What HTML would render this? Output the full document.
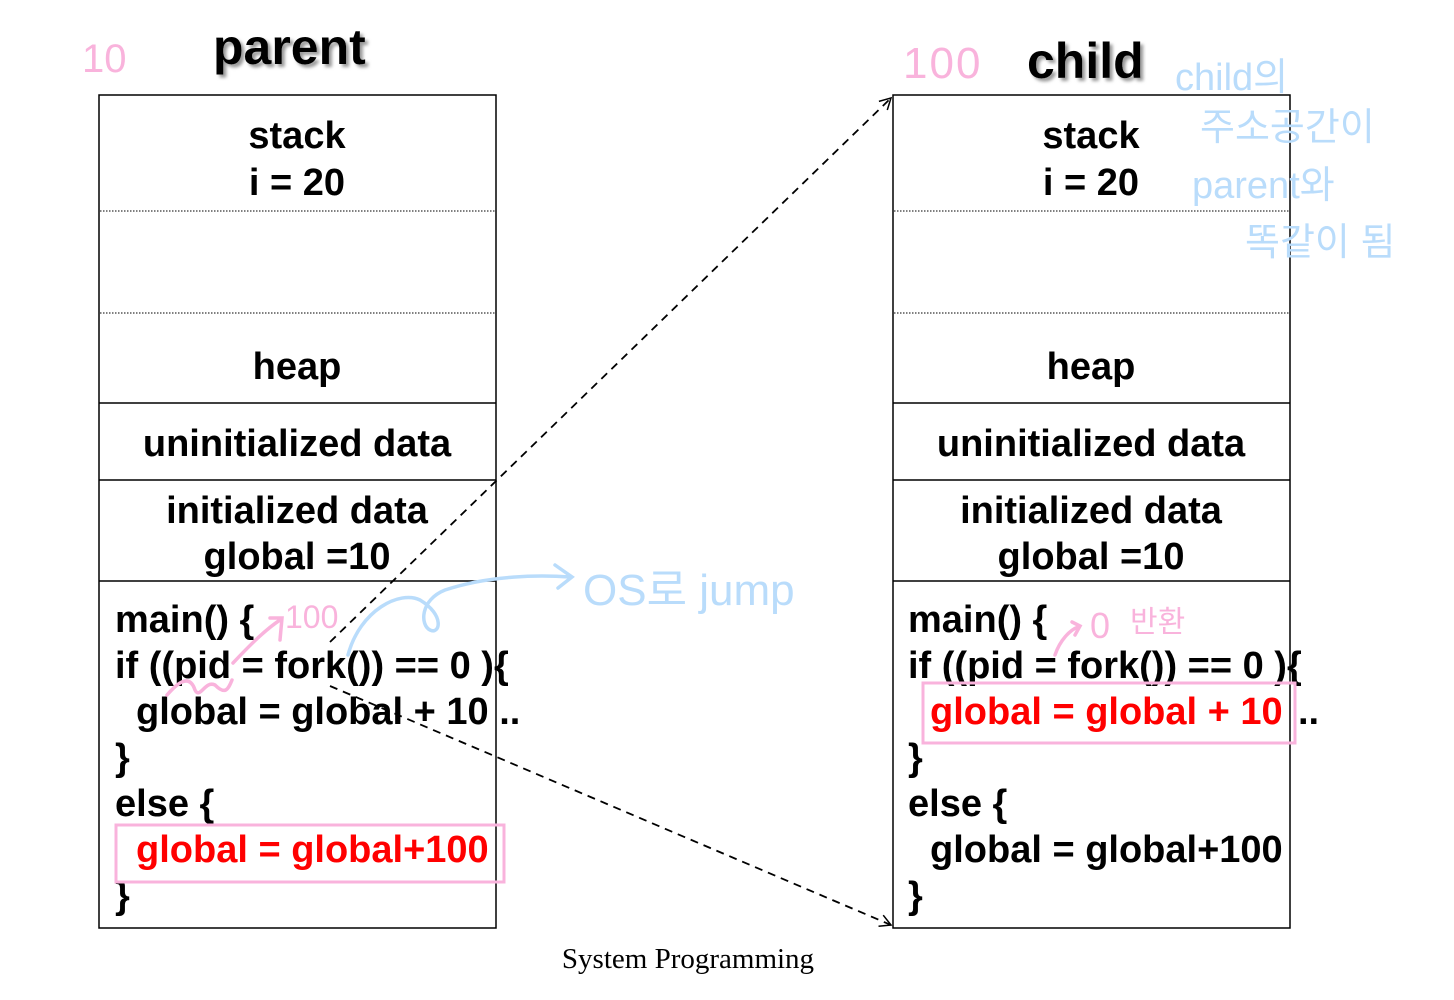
<!DOCTYPE html>
<html><head><meta charset="utf-8"><style>
html,body{margin:0;padding:0;background:#fff;width:1454px;height:1000px;overflow:hidden}
svg{display:block}
.t{font-family:"Liberation Sans",Arial,sans-serif;font-weight:bold;font-size:38px;fill:#000}
</style></head><body>
<svg width="1454" height="1000" xmlns="http://www.w3.org/2000/svg">
<defs>
<marker id="ar" markerWidth="14" markerHeight="14" refX="12" refY="7" orient="auto" markerUnits="userSpaceOnUse">
<path d="M1,1 L12,7 L1,13" fill="none" stroke="#000" stroke-width="1.5"/></marker>
<filter id="sh"><feDropShadow dx="3" dy="3" stdDeviation="1.5" flood-color="#999"/></filter>
</defs>
<text x="213" y="64" class="t" style="font-size:50px" filter="url(#sh)">parent</text>
<text x="1027" y="78" class="t" style="font-size:50px" filter="url(#sh)">child</text>
<text x="82" y="72" font-family="Liberation Sans,sans-serif" font-size="40" fill="#f9b3dc">10</text>
<text x="903" y="78" font-family="Liberation Sans,sans-serif" font-size="44" fill="#f9b3dc" letter-spacing="2">100</text>

<g stroke="#000" stroke-width="1.5" fill="none">
<rect x="99" y="95" width="397" height="833"/>
<line x1="99" y1="403" x2="496" y2="403"/><line x1="99" y1="480" x2="496" y2="480"/><line x1="99" y1="581" x2="496" y2="581"/>
<rect x="893" y="95" width="397" height="833"/>
<line x1="893" y1="403" x2="1290" y2="403"/><line x1="893" y1="480" x2="1290" y2="480"/><line x1="893" y1="581" x2="1290" y2="581"/>
</g>
<g stroke="#000" stroke-width="1" stroke-dasharray="1.5,1.5">
<line x1="100" y1="211" x2="495" y2="211"/><line x1="100" y1="313" x2="495" y2="313"/>
<line x1="894" y1="211" x2="1289" y2="211"/><line x1="894" y1="313" x2="1289" y2="313"/>
</g>

<g class="t" text-anchor="middle">
<text x="297" y="148">stack</text><text x="297" y="195">i = 20</text>
<text x="297" y="379">heap</text><text x="297" y="456">uninitialized data</text>
<text x="297" y="523">initialized data</text><text x="297" y="569">global =10</text>
<text x="1091" y="148">stack</text><text x="1091" y="195">i = 20</text>
<text x="1091" y="379">heap</text><text x="1091" y="456">uninitialized data</text>
<text x="1091" y="523">initialized data</text><text x="1091" y="569">global =10</text>
</g>
<g class="t">
<text x="115" y="632">main() {</text>
<text x="115" y="678">if ((pid = fork()) == 0 ){</text>
<text x="136" y="724">global = global + 10 ..</text>
<text x="115" y="770">}</text>
<text x="115" y="816">else {</text>
<text x="136" y="862" style="fill:#f00">global = global+100</text>
<text x="115" y="908">}</text>
<text x="908" y="632">main() {</text>
<text x="908" y="678">if ((pid = fork()) == 0 ){</text>
<text x="930" y="724" style="fill:#f00">global = global + 10</text><text x="1298" y="724">..</text>
<text x="908" y="770">}</text>
<text x="908" y="816">else {</text>
<text x="930" y="862">global = global+100</text>
<text x="908" y="908">}</text>
</g>
<rect x="116" y="825" width="388" height="57" fill="none" stroke="#f9b3dc" stroke-width="3"/>
<rect x="923" y="683" width="372" height="60" fill="none" stroke="#f9b3dc" stroke-width="3"/>

<g stroke="#000" stroke-width="1.8" stroke-dasharray="8,6" fill="none">
<line x1="330" y1="642" x2="891" y2="98" marker-end="url(#ar)"/>
<line x1="330" y1="686" x2="891" y2="925" marker-end="url(#ar)"/>
</g>

<g fill="none" stroke="#f9b3dc" stroke-width="3.5" stroke-linecap="round">
<path d="M167,695 C180,680 190,675 195,690 C200,700 205,680 215,685 C225,695 228,690 232,680"/>
<path d="M233,663 C250,645 265,630 280,620 M270,618 L282,618 L280,640"/>
<path d="M1055,655 C1060,640 1070,630 1078,627 M1072,622 L1080,626 L1075,635"/>
</g>
<text x="285" y="628" font-family="Liberation Sans,sans-serif" font-size="32" fill="#f9b3dc">100</text>
<text x="1090" y="638" font-family="Liberation Sans,sans-serif" font-size="36" fill="#f9b3dc">0</text>
<text x="1130" y="632" font-family="Liberation Sans,'Noto Sans CJK KR',sans-serif" font-size="30" fill="#f9b3dc">반환</text>

<g fill="none" stroke="#b9dcfb" stroke-width="3.5" stroke-linecap="round">
<path d="M348,655 C360,610 400,590 420,600 C445,615 440,635 430,630 C420,625 420,600 445,590 C490,575 540,575 570,577 M555,565 L572,577 L558,588"/>
</g>
<text x="583" y="605" font-family="Liberation Sans,'Noto Sans CJK KR',sans-serif" font-size="44" fill="#b9dcfb">OS로 jump</text>
<g font-family="Liberation Sans,'Noto Sans CJK KR',sans-serif" font-size="38" fill="#b9dcfb">
<text x="1175" y="90">child의</text>
<text x="1200" y="140">주소공간이</text>
<text x="1192" y="198">parent와</text>
<text x="1245" y="255">똑같이 됨</text>
</g>

<text x="688" y="968" text-anchor="middle" font-family="Liberation Serif,serif" font-size="29" fill="#000">System Programming</text>
</svg>
</body></html>
